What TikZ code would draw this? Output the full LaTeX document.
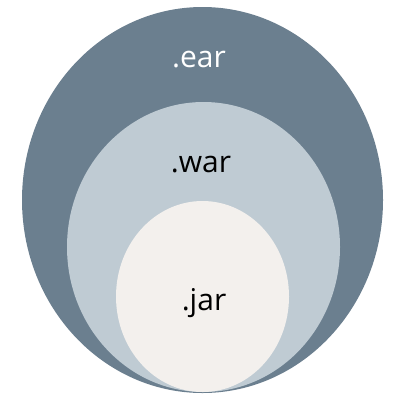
\documentclass[tikz,border=0pt]{standalone}
\usepackage{fontspec}
\setmainfont{Open Sans}
\definecolor{earc}{HTML}{6B7F8F}
\definecolor{warc}{HTML}{BFCBD3}
\definecolor{jarc}{HTML}{F3F0ED}
\begin{document}
\begin{tikzpicture}[x=1pt,y=-1pt,
  lbl/.style={anchor=base,inner sep=0pt,font=\fontsize{30}{36}\selectfont}]
\useasboundingbox (0,0) rectangle (403,400);
\fill[earc] (202.5,200) ellipse [x radius=180.5, y radius=193];
\fill[warc] (203.5,247) ellipse [x radius=136.5, y radius=145];
\fill[jarc] (202.5,296.5) ellipse [x radius=86.5, y radius=95.5];
\node[lbl,text=white] (ear) at (199,67) {.ear};
\node[lbl,text=black] (war) at (201,172) {.war};
\node[lbl,text=black] (jar) at (204,310) {.jar};
\end{tikzpicture}
\end{document}
